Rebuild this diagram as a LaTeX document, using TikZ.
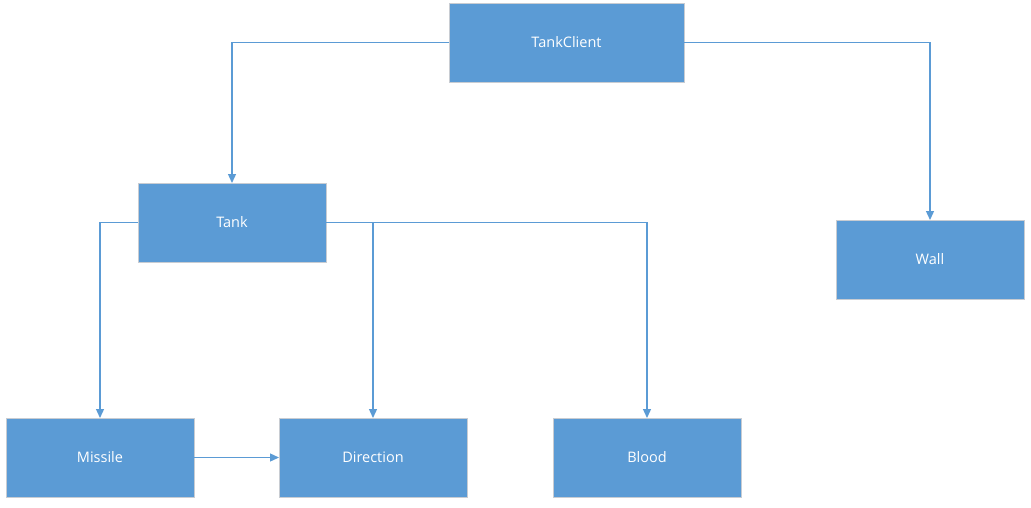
\documentclass[tikz,border=0pt]{standalone}
\usepackage{fontspec}
\setmainfont{Open Sans}
\usetikzlibrary{arrows.meta}
\definecolor{boxblue}{HTML}{5B9BD5}
\definecolor{boxedge}{HTML}{C8CCD2}
\begin{document}
\begin{tikzpicture}[x=1pt,y=-1pt,
  box/.style={rectangle, fill=boxblue, draw=boxedge, line width=1pt, text=white,
    font=\fontsize{14.5}{16}\selectfont, minimum width=188pt, minimum height=79pt,
    inner sep=0pt, outer sep=0pt},
  link/.style={draw=boxblue, line width=1.3pt, -{Triangle[length=9pt,width=8pt]}}]
\useasboundingbox (0,0) rectangle (1031,507);
\node[box, minimum width=235pt] (tc) at (566.5,42.5) {TankClient};
\node[box] (tank) at (232,222.5) {Tank};
\node[box] (wall) at (930,259.5) {Wall};
\node[box] (missile) at (100,457.5) {Missile};
\node[box] (dir) at (373,457.5) {Direction};
\node[box] (blood) at (647,457.5) {Blood};
\draw[link] (tc.west) -| (tank.north);
\draw[link] (tc.east) -| (wall.north);
\draw[link] (tank.west) -| (missile.north);
\draw[link] (tank.east) -| (dir.north);
\draw[link] (tank.east) -| (blood.north);
\draw[link] (missile.east) -- (dir.west);
\end{tikzpicture}
\end{document}
